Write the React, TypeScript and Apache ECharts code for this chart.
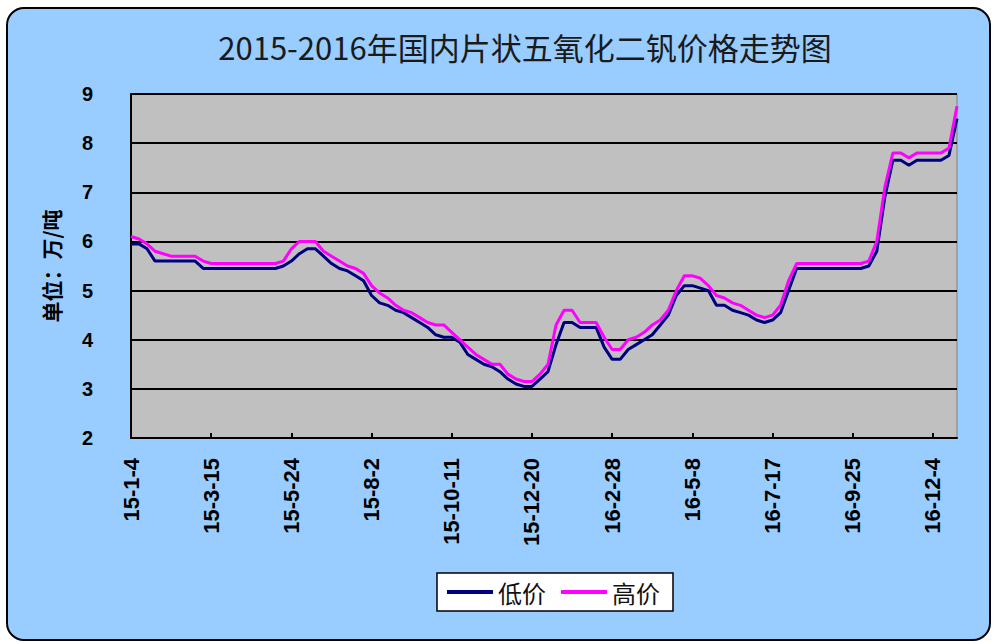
import React, { useEffect, useRef } from "react";
import * as echarts from "echarts";

const START_UTC = Date.UTC(2015, 0, 4);
const WEEK_COUNT = 104;
const categories: string[] = Array.from({ length: WEEK_COUNT }, (_, i) => {
  const d = new Date(START_UTC + i * 7 * 86400000);
  return `${d.getUTCFullYear() % 100}-${d.getUTCMonth() + 1}-${d.getUTCDate()}`;
});

const titleText = "2015-2016年国内片状五氧化二钒价格走势图";
const yAxisName = "单位：万/吨";
const seriesNames = ["低价", "高价"];

// 低价 (weekly)
const lowPrice: number[] = [
  5.95, 5.95, 5.85, 5.6, 5.6, 5.6, 5.6, 5.6, 5.6, 5.45,
  5.45, 5.45, 5.45, 5.45, 5.45, 5.45, 5.45, 5.45, 5.45, 5.5,
  5.6, 5.75, 5.85, 5.85, 5.7, 5.55, 5.45, 5.4, 5.3, 5.2,
  4.9, 4.75, 4.7, 4.6, 4.55, 4.45, 4.35, 4.25, 4.1, 4.05,
  4.05, 3.95, 3.7, 3.6, 3.5, 3.45, 3.35, 3.2, 3.1, 3.05,
  3.05, 3.2, 3.35, 3.9, 4.35, 4.35, 4.25, 4.25, 4.25, 3.85,
  3.6, 3.6, 3.8, 3.9, 4.0, 4.1, 4.3, 4.5, 4.9, 5.1,
  5.1, 5.05, 5.0, 4.7, 4.7, 4.6, 4.55, 4.5, 4.4, 4.35,
  4.4, 4.55, 5.0, 5.45, 5.45, 5.45, 5.45, 5.45, 5.45, 5.45,
  5.45, 5.45, 5.5, 5.8, 6.9, 7.65, 7.65, 7.55, 7.65, 7.65,
  7.65, 7.65, 7.75, 8.5,
];

// 高价 (weekly)
const highPrice: number[] = [
  6.1, 6.05, 5.95, 5.8, 5.75, 5.7, 5.7, 5.7, 5.7, 5.6,
  5.55, 5.55, 5.55, 5.55, 5.55, 5.55, 5.55, 5.55, 5.55, 5.6,
  5.85, 6.0, 6.0, 6.0, 5.8, 5.7, 5.6, 5.5, 5.45, 5.35,
  5.1, 4.95, 4.85, 4.7, 4.6, 4.55, 4.45, 4.35, 4.3, 4.3,
  4.15, 4.0, 3.85, 3.7, 3.6, 3.5, 3.5, 3.3, 3.2, 3.15,
  3.15, 3.3, 3.5, 4.3, 4.6, 4.6, 4.35, 4.35, 4.35, 4.05,
  3.8, 3.8, 4.0, 4.05, 4.15, 4.3, 4.4, 4.6, 5.0, 5.3,
  5.3, 5.25, 5.1, 4.9, 4.85, 4.75, 4.7, 4.6, 4.5, 4.45,
  4.5, 4.7, 5.2, 5.55, 5.55, 5.55, 5.55, 5.55, 5.55, 5.55,
  5.55, 5.55, 5.6, 6.0, 7.1, 7.8, 7.8, 7.7, 7.8, 7.8,
  7.8, 7.8, 7.9, 8.75,
];

const LATIN = "'Liberation Sans', Arial, sans-serif";
const CJK = "'Noto Sans CJK SC', sans-serif";

export default function App() {
  const ref = useRef<HTMLDivElement>(null);

  useEffect(() => {
    if (!ref.current) return;
    const chart = echarts.init(ref.current, undefined, { renderer: "svg" });
    chart.setOption({
      animation: false,
      backgroundColor: "transparent",
      graphic: [
        {
          type: "text",
          x: 525,
          y: 46,
          style: {
            text: titleText,
            font: `normal 31px ${CJK}`,
            fill: "#1a1a1a",
            textAlign: "center",
            textVerticalAlign: "middle",
            align: "center",
            verticalAlign: "middle",
          },
        },
      ],
      legend: {
        data: seriesNames,
        left: 437,
        top: 573,
        orient: "horizontal",
        backgroundColor: "#ffffff",
        borderColor: "#000000",
        borderWidth: 1.5,
        borderRadius: 0,
        padding: [7, 13, 7, 10],
        itemWidth: 46,
        itemHeight: 4,
        itemGap: 15,
        icon: "rect",
        textStyle: { fontSize: 24, fontFamily: CJK, color: "#111" },
      },
      grid: {
        left: 131,
        top: 94,
        right: 40,
        bottom: 206,
        show: true,
        backgroundColor: "#C0C0C0",
        borderColor: "#808080",
        borderWidth: 1,
        containLabel: false,
      },
      xAxis: {
        type: "category",
        data: categories,
        boundaryGap: false,
        axisLine: { show: true, lineStyle: { color: "#000", width: 2 } },
        axisTick: {
          show: true,
          inside: true,
          length: 5,
          interval: 9,
          lineStyle: { color: "#000", width: 2 },
        },
        axisLabel: {
          interval: 9,
          rotate: 90,
          margin: 20,
          fontSize: 22,
          fontFamily: LATIN,
          fontWeight: "bold",
          color: "#000",
        },
        splitLine: { show: false },
      },
      yAxis: {
        type: "value",
        min: 2,
        max: 9,
        interval: 1,
        name: yAxisName,
        nameLocation: "middle",
        nameRotate: 90,
        nameGap: 70,
        nameTextStyle: { fontSize: 21, fontFamily: CJK, fontWeight: "bold", color: "#000" },
        axisLine: { show: true, lineStyle: { color: "#000", width: 2 } },
        axisTick: { show: false },
        axisLabel: {
          margin: 38,
          fontSize: 20,
          fontFamily: LATIN,
          fontWeight: "bold",
          color: "#000",
        },
        splitLine: { show: true, lineStyle: { color: "#000", width: 2 } },
      },
      series: [
        {
          name: seriesNames[0],
          type: "line",
          data: lowPrice,
          showSymbol: false,
          symbol: "none",
          lineStyle: { color: "#000080", width: 3 },
          itemStyle: { color: "#000080" },
        },
        {
          name: seriesNames[1],
          type: "line",
          data: highPrice,
          showSymbol: false,
          symbol: "none",
          lineStyle: { color: "#FF00FF", width: 3 },
          itemStyle: { color: "#FF00FF" },
        },
      ],
    });
    return () => chart.dispose();
  }, []);

  return (
    <div
      style={{
        position: "absolute",
        left: 0,
        top: 0,
        width: 997,
        height: 644,
        background: "#ffffff",
        overflow: "hidden",
      }}
    >
      <div
        style={{
          position: "absolute",
          left: 6,
          top: 7,
          width: 981,
          height: 630,
          background: "#99CCFF",
          border: "2px solid #000",
          borderRadius: 18,
        }}
      />
      <div ref={ref} style={{ position: "absolute", left: 0, top: 0, width: 997, height: 644 }} />
    </div>
  );
}
